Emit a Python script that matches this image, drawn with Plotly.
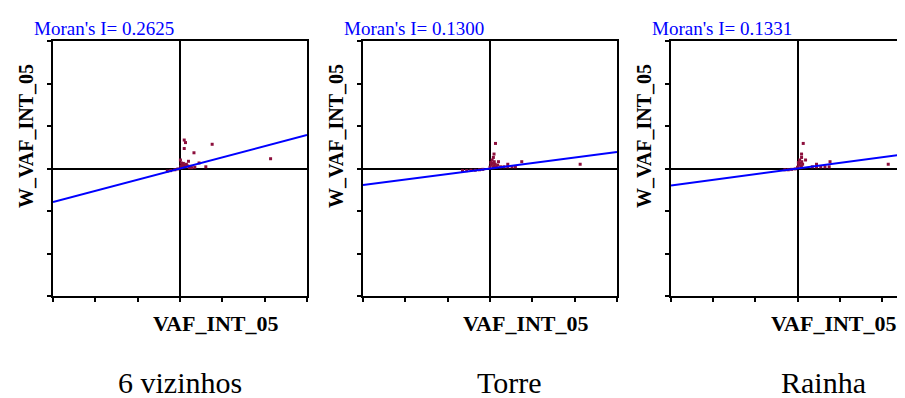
import plotly.graph_objects as go

W, H = 905, 398

panel_names = ["6 vizinhos", "Torre", "Rainha"]
moran_i = [0.2625, 0.1300, 0.1331]
x_label = "VAF_INT_05"
y_label = "W_VAF_INT_05"
tick_vals = [-3, -2, -1, 0, 1, 2, 3]

# scatter points (standardized VAF_INT_05, spatial lag)
p1_x = [0.10, 0.13, 0.10, 0.33, 0.76, 2.14, 0.20, 0.45, 0.61,
        0.02, 0.05, 0.08, 0.10, 0.04, 0.12, 0.15, 0.07, 0.03, 0.18, 0.22, 0.25, 0.01,
        -0.30, -0.22, -0.12, -0.05, 0.28, 0.35]
p1_y = [0.67, 0.61, 0.47, 0.37, 0.57, 0.23, 0.17, 0.13, 0.04,
        0.05, 0.10, 0.12, 0.08, 0.02, 0.04, 0.10, 0.06, 0.13, 0.06, 0.02, 0.05, 0.20,
        -0.06, -0.05, -0.03, -0.01, 0.02, 0.03]

p2_x = [0.13, 0.095, 0.08, 0.20, 0.42, 0.75, 2.13,
        0.00, 0.03, 0.06, 0.09, 0.12, 0.15, 0.18, 0.05, 0.10, 0.02, 0.08,
        0.25, 0.33, 0.42, 0.52, 0.60,
        -0.65, -0.55, -0.45, -0.35, -0.25, -0.17]
p2_y = [0.59, 0.34, 0.26, 0.16, 0.10, 0.16, 0.10,
        0.03, 0.08, 0.12, 0.05, 0.10, 0.04, 0.08, 0.20, 0.16, 0.14, 0.02,
        0.04, 0.04, 0.04, 0.04, 0.04,
        -0.05, -0.05, -0.04, -0.04, -0.03, -0.02]

p3_x = [0.135, 0.095, 0.095, 0.19, 0.45, 0.77, 2.15,
        0.00, 0.03, 0.06, 0.09, 0.12, 0.05, 0.10, 0.02, 0.08,
        0.35, 0.45, 0.55, 0.65, 0.75,
        -0.30, -0.22, -0.14, -0.06]
p3_y = [0.59, 0.34, 0.26, 0.20, 0.10, 0.16, 0.10,
        0.03, 0.08, 0.12, 0.05, 0.10, 0.20, 0.16, 0.14, 0.02,
        0.04, 0.04, 0.04, 0.04, 0.04,
        -0.03, -0.03, -0.02, -0.01]

points = [(p1_x, p1_y), (p2_x, p2_y), (p3_x, p3_y)]

# layout geometry (pixels)
box_left = [45, 355, 663]
box_width = 254
box_top, box_bottom = 33, 288
x_ranges = [[-3, 3], [-3, 3], [-3, (W - 789.5) / 42.2]]

def px(x):
    return x / W

def py(y):
    return (H - y) / H

fig = go.Figure()

for i in range(3):
    ax = "" if i == 0 else str(i + 1)
    xs, ys = points[i]
    fig.add_trace(go.Scatter(
        x=xs, y=ys, mode="markers", xaxis="x" + ax, yaxis="y" + ax,
        marker=dict(symbol="square", size=3, color="#8c0f3c", line=dict(width=0)),
        showlegend=False, hoverinfo="skip"))
    fig.add_trace(go.Scatter(
        x=[-3, 3], y=[-3 * moran_i[i], 3 * moran_i[i]], mode="lines",
        xaxis="x" + ax, yaxis="y" + ax,
        line=dict(color="#0000ff", width=2), showlegend=False, hoverinfo="skip"))

    right = min(box_left[i] + box_width, W)
    xdom = [px(box_left[i]), px(right)]
    ydom = [py(box_bottom), py(box_top)]
    common = dict(showgrid=False, zeroline=True, zerolinecolor="black", zerolinewidth=2,
                  showline=True, linecolor="black", linewidth=2,
                  ticks="outside", ticklen=4, tickwidth=1.5, tickcolor="black",
                  tickvals=tick_vals, showticklabels=False, fixedrange=True)
    fig.update_layout(**{
        "xaxis" + ax: dict(domain=xdom, range=x_ranges[i], mirror=True,
                           anchor="y" + ax, **common),
        "yaxis" + ax: dict(domain=ydom, range=[-3, 3], mirror=(i < 2),
                           anchor="x" + ax, **common),
    })

    # Moran's I title
    fig.add_annotation(text=f"Moran's I= {moran_i[i]:.4f}", xref="paper", yref="paper",
                       x=px(box_left[i] - 21), y=py(21), xanchor="left", yanchor="middle",
                       showarrow=False,
                       font=dict(family="Liberation Serif", size=19, color="#0000ff"))
    # y label
    fig.add_annotation(text=f"<b>{y_label}</b>", xref="paper", yref="paper",
                       x=px(box_left[i] - 27), y=py(128), xanchor="center", yanchor="middle",
                       textangle=-90, showarrow=False,
                       font=dict(family="Liberation Serif", size=20, color="black"))
    # x label
    fig.add_annotation(text=f"<b>{x_label}</b>", xref="paper", yref="paper",
                       x=px(box_left[i] + 163), y=py(315), xanchor="center", yanchor="middle",
                       showarrow=False,
                       font=dict(family="Liberation Serif", size=22, color="black"))

caption_x = [172, 501, 815]
for i in range(3):
    fig.add_annotation(text=panel_names[i], xref="paper", yref="paper",
                       x=px(caption_x[i]), y=py(393), xanchor="center", yanchor="bottom",
                       showarrow=False,
                       font=dict(family="Liberation Serif", size=30, color="black"))

fig.update_layout(width=W, height=H, margin=dict(l=0, r=0, t=0, b=0),
                  paper_bgcolor="white", plot_bgcolor="white")

fig.write_html("out.html")
